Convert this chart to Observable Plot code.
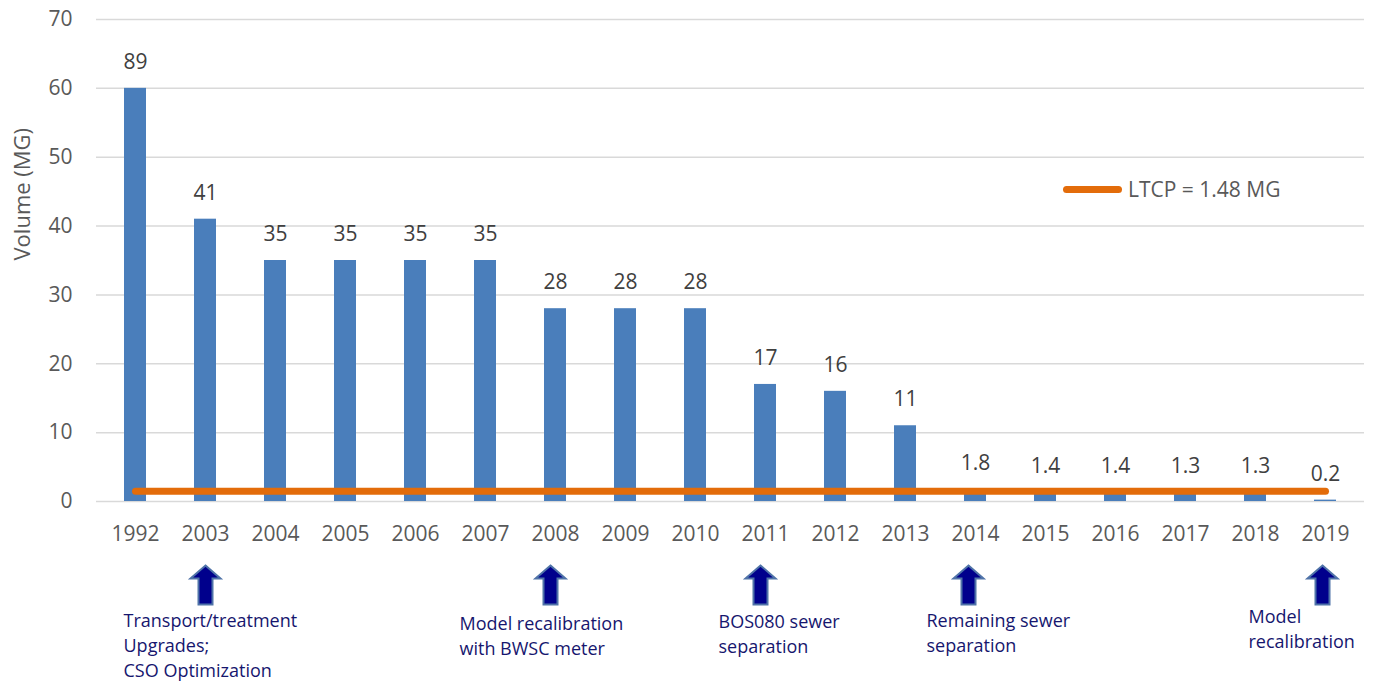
<!DOCTYPE html>
<html>
<head>
<meta charset="utf-8">
<script src="https://cdn.jsdelivr.net/npm/d3@7"></script>
<script src="https://cdn.jsdelivr.net/npm/@observablehq/plot@0.6"></script>
<style>
  html, body { margin: 0; padding: 0; background: #fff; }
  #wrap { position: relative; width: 1376px; height: 683px; }
  .legend { position: absolute; left: 1063px; top: 175px; display: flex; align-items: center;
            font-family: "Open Sans", sans-serif; font-size: 21px; color: #595959; }
  .legend .swatch { width: 59px; height: 7px; border-radius: 4px; background: #e36c0a; margin-right: 6px; }
</style>
</head>
<body>
<div id="wrap"></div>
<script>
// Annual CSO discharge volume (MG) by year
const years = ["1992","2003","2004","2005","2006","2007","2008","2009","2010","2011","2012","2013","2014","2015","2016","2017","2018","2019"];
const volumes = [89, 41, 35, 35, 35, 35, 28, 28, 28, 17, 16, 11, 1.8, 1.4, 1.4, 1.3, 1.3, 0.2];
const volumeLabels = ["89","41","35","35","35","35","28","28","28","17","16","11","1.8","1.4","1.4","1.3","1.3","0.2"];
const yTicks = [0, 10, 20, 30, 40, 50, 60, 70];
const axisBreak = 60;            // tall bars are cut at this value
const ltcpValue = 1.48;
const ltcpSpan = ["1992", "2019"];
const ltcpLabel = "LTCP = 1.48 MG";

// Milestones marked under the axis
const noteYears = ["2003", "2008", "2011", "2014", "2019"];
const noteTexts = [
  "Transport/treatment\nUpgrades;\nCSO Optimization",
  "Model recalibration\nwith BWSC meter",
  "BOS080 sewer\nseparation",
  "Remaining sewer\nseparation",
  "Model\nrecalibration"
];

const data = years.map((year, i) => ({year, value: volumes[i], label: volumeLabels[i]}));
const ltcp = ltcpSpan.map(year => ({year, value: ltcpValue}));

// note placement relative to each year's band centre (text offset, arrow offset)
const noteLayout = [
  {tx: -82, ty: 108, ax: 0},
  {tx: -96, ty: 111, ax: -5},
  {tx: -47, ty: 109, ax: -5},
  {tx: -49, ty: 108, ax: -7},
  {tx: -77, ty: 104, ax: -3}
];

// block up-arrow drawn as a custom symbol
const arrowSymbol = {
  draw(context, size) {
    const s = Math.sqrt(size / Math.PI) / 20;
    context.moveTo(0, -20 * s);
    context.lineTo(15 * s, -7 * s);
    context.lineTo(7 * s, -7 * s);
    context.lineTo(7 * s, 19 * s);
    context.lineTo(-7 * s, 19 * s);
    context.lineTo(-7 * s, -7 * s);
    context.lineTo(-15 * s, -7 * s);
    context.closePath();
  }
};

const noteMarks = noteYears.flatMap((yr, i) => [
  Plot.dot([i], {
    x: () => yr, frameAnchor: "bottom", dx: noteLayout[i].ax, dy: 84,
    r: 20, symbol: arrowSymbol, fill: "#00008c", stroke: "#4f73a8", strokeWidth: 2
  }),
  Plot.text([i], {
    x: () => yr, text: () => noteTexts[i], frameAnchor: "bottom",
    dx: noteLayout[i].tx, dy: noteLayout[i].ty, textAnchor: "start", lineAnchor: "top",
    lineHeight: 1.38, fontSize: 18, fill: "#16166e"
  })
]);

const chart = Plot.plot({
  width: 1376,
  height: 683,
  marginTop: 19,
  marginBottom: 182,
  marginLeft: 96,
  marginRight: 12,
  style: {fontFamily: "'Open Sans', sans-serif", fontSize: "21px", color: "#595959", background: "#fff"},
  x: {domain: years, paddingInner: 0.69, paddingOuter: 0.345, label: null},
  y: {domain: [0, 70], label: null},
  marks: [
    Plot.ruleY(yTicks, {stroke: "#d9d9d9", strokeWidth: 1.5}),
    Plot.axisY({ticks: yTicks, tickSize: 0, tickPadding: 24, label: null}),
    Plot.axisX({tickSize: 0, tickPadding: 25, label: null}),
    Plot.barY(data, {x: "year", y: d => Math.min(d.value, axisBreak), fill: "#4a7ebb"}),
    Plot.text(data, {x: "year", y: d => Math.min(d.value, axisBreak), text: "label", dy: -26, fill: "#404040"}),
    Plot.line(ltcp, {x: "year", y: "value", stroke: "#e36c0a", strokeWidth: 7, strokeLinecap: "round"}),
    Plot.text(["Volume (MG)"], {frameAnchor: "left", dx: -74, rotate: -90, fontSize: 22, fill: "#595959"}),
    ...noteMarks
  ]
});

const wrap = document.getElementById("wrap");
wrap.appendChild(chart);

const legend = document.createElement("div");
legend.className = "legend";
legend.innerHTML = `<span class="swatch"></span><span>${ltcpLabel}</span>`;
wrap.appendChild(legend);
</script>
</body>
</html>
